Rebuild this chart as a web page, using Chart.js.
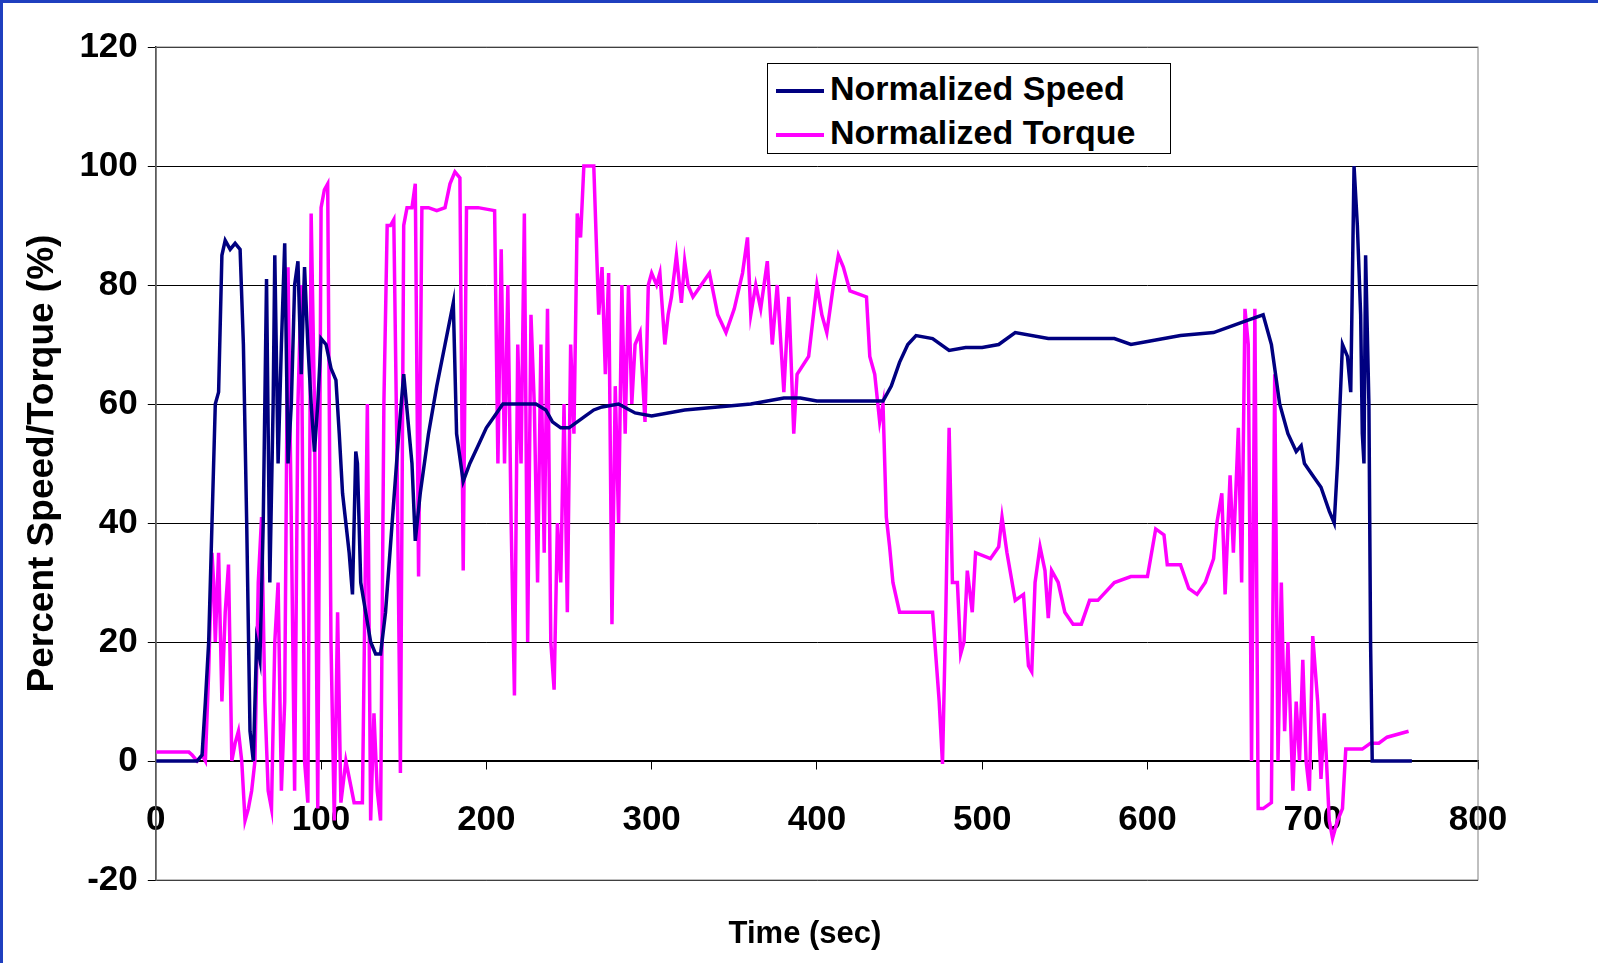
<!DOCTYPE html>
<html>
<head>
<meta charset="utf-8">
<script src="https://cdn.jsdelivr.net/npm/chart.js@4/dist/chart.umd.min.js"></script>
<style>
  body { margin: 0; background: #fff; font-family: "Liberation Sans", Arial, sans-serif; }
  #wrap { position: relative; width: 1598px; height: 963px; box-sizing: border-box; border-left: 3px solid #1f3fbf; border-top: 3px solid #1f3fbf; }
  #legend { position: absolute; left: 764px; top: 60px; width: 404px; height: 91px; border: 1px solid #000; background: #fff; box-sizing: border-box; font-weight: bold; font-size: 34px; }
  .row { position: absolute; left: 8px; height: 40px; line-height: 40px; white-space: nowrap; }
  .sw { display: inline-block; width: 48px; height: 4px; vertical-align: middle; margin-right: 6px; }
  #xtitle { position: absolute; left: 0; width: 1604px; top: 897px; text-align: center; font-weight: bold; font-size: 31px; }
</style>
</head>
<body>
<div id="wrap">
<canvas id="grafica" width="1595" height="960"></canvas>
<div id="legend">
  <div class="row" style="top:4px"><span class="sw" style="background:#000080"></span>Normalized Speed</div>
  <div class="row" style="top:48px"><span class="sw" style="background:#ff00ff"></span>Normalized Torque</div>
</div>
<div id="xtitle" style="top:912px">Time (sec)</div>
</div>
<script>
// Velocidad normalizada
var tiempoVel = [0,25,28,30,32,34,36,38,40,42,45,48,51,53,55,57,59,61,63,65,67,69,71,72,74,76,78,80,82,84,86,88,90,92,94,96,98,100,103,106,109,111,113,115,117,119,120,121,122,124,127,130,133,136,139,143,147,150,155,157,160,165,170,175,180,182,186,190,195,200,205,210,215,220,230,236,240,245,250,255,260,265,270,280,290,300,320,340,360,370,380,390,400,420,440,445,450,455,460,470,480,490,500,510,520,540,560,580,590,600,620,640,650,660,670,675,680,685,690,693,695,700,705,710,713,715,718,721,723,725,727,729,730,731,732,734,735,736,760];
var velocidad = [0,0,1,10,20,40,60,62,85,87.5,86,87,86,70,40,5,0,20,17,40,81,30,60,85,50,70,87,50,60,80,84,65,83,70,60,52,60,71,70,66,64,55,45,40,35,28,40,52,50,30,25,20,18,18,25,40,55,65,50,37,45,55,63,70,77,55,47,50,53,56,58,60,60,60,60,59,57,56,56,57,58,59,59.5,60,58.5,58,59,59.5,60,60.5,61,61,60.5,60.5,60.5,63,67,70,71.5,71,69,69.5,69.5,70,72,71,71,71,70,70.5,71.5,72,73,74,75,70,60,55,52,53,50,48,46,42,40,50,70,68,62,100,90,75,55,50,85,60,20,0,0];
// Par normalizado
var tiempoPar = [0,20,22,25,28,30,32,34,35,36,38,40,42,44,46,48,50,52,54,56,58,60,62,64,66,68,70,72,74,76,78,80,82,84,86,88,90,92,94,96,98,100,102,104,106,108,110,112,115,120,125,128,130,132,134,136,138,140,142,144,146,148,150,152,155,157,159,161,165,170,175,178,181,184,186,188,195,205,207,209,211,213,215,217,219,221,223,225,227,229,231,233,235,237,239,241,243,245,247,249,251,253,255,257,259,261,265,268,270,272,274,276,278,280,282,284,286,288,290,293,296,298,300,303,305,308,310,312,315,318,320,322,325,330,335,340,345,350,355,358,360,363,366,370,373,376,380,383,386,388,395,400,403,406,410,413,416,420,430,432,435,438,440,442,444,446,450,460,470,474,476,478,480,482,485,487,489,491,494,496,505,510,512,515,520,525,528,530,532,535,538,540,542,546,550,555,560,565,570,580,590,600,605,610,612,620,625,630,635,640,642,645,647,650,652,655,657,659,661,663,665,667,670,675,677,679,681,683,685,688,690,692,694,696,698,700,703,705,707,710,712,715,718,720,725,730,735,740,745,758];
var par = [1.5,1.5,1,0,1,0,15,35,30,20,35,10,25,33,0,3,5,0,-10,-8,-5,0,30,41,10,-5,-8,20,30,-5,10,83,40,-5,60,80,0,-7,92,60,-8,93,96,97,20,-10,25,-7,0,-7,-7,60,-10,8,-5,-10,60,90,90,91,50,-2,90,93,93,97,31,93,93,92.5,93,97,99,98,32,93,93,92.5,50,86,50,80,40,11,70,50,92,20,75,60,30,70,35,76,20,12,40,30,60,25,70,55,92,88,100,100,100,75,83,65,82,23,63,40,80,55,80,60,70,72,57,80,82,80,82,70,75,78,85,77,84,80,78,80,82,75,72,76,82,88,75,80,76,84,70,80,62,78,55,65,68,80,75,72,80,85,83,79,78,68,65,57,60,41,36,30,25,25,25,10,-0.5,25,56,30,30,18,20,32,25,35,34,36,41,35,27,28,16,15,30,36,32,24,32,30,25,23,23,27,27,30,31,31,39,38,33,33,29,28,30,34,40,45,28,48,35,56,30,76,70,0,76,-8,-8,-7,65,0,30,5,20,-5,10,0,17,0,-5,21,10,-3,8,-10,-13,-10,-8,2,2,2,3,3,4,5];
var marcasY = [-20,0,20,40,60,80,100,120];

function puntos(xs, ys) {
    var p = [];
    for (var i = 0; i < xs.length; i++) p.push({x: xs[i], y: ys[i]});
    return p;
}

var marco = {
    id: 'marco',
    afterDraw: function (chart) {
        var a = chart.chartArea, c = chart.ctx;
        c.save();
        c.strokeStyle = '#808080';
        c.lineWidth = 1;
        c.strokeRect(a.left, a.top, a.right - a.left, a.bottom - a.top);
        c.restore();
    }
};

var fuente = {family: '"Liberation Sans", Arial, sans-serif', size: 35, weight: 'bold'};

new Chart(document.getElementById('grafica'), {
    type: 'scatter',
    data: {
        datasets: [
            {label: 'Normalized Speed', data: puntos(tiempoVel, velocidad), showLine: true, borderColor: '#000080', borderWidth: 3.5, pointRadius: 0, tension: 0},
            {label: 'Normalized Torque', data: puntos(tiempoPar, par), showLine: true, borderColor: '#ff00ff', borderWidth: 3.5, pointRadius: 0, tension: 0}
        ]
    },
    options: {
        responsive: false,
        animation: false,
        layout: {padding: {left: 14, right: 120, top: 44, bottom: 83}},
        plugins: {legend: {display: false}, tooltip: {enabled: false}},
        scales: {
            x: {
                type: 'linear', min: 0, max: 800, position: {y: 0},
                ticks: {stepSize: 100, color: '#000', font: fuente, padding: 30, maxRotation: 0},
                grid: {drawOnChartArea: false, color: '#000', tickLength: 8},
                border: {color: '#000', width: 1.5}
            },
            y: {
                min: -20, max: 120,
                afterBuildTicks: function (ax) { ax.ticks = marcasY.map(function (v) { return {value: v}; }); },
                ticks: {color: '#000', font: fuente, padding: 10},
                grid: {color: '#000', lineWidth: 1, tickLength: 8},
                border: {color: '#000', width: 1.5},
                title: {display: true, text: 'Percent Speed/Torque (%)', color: '#000', font: {family: fuente.family, size: 37, weight: 'bold'}}
            }
        }
    },
    plugins: [marco]
});
</script>
</body>
</html>
